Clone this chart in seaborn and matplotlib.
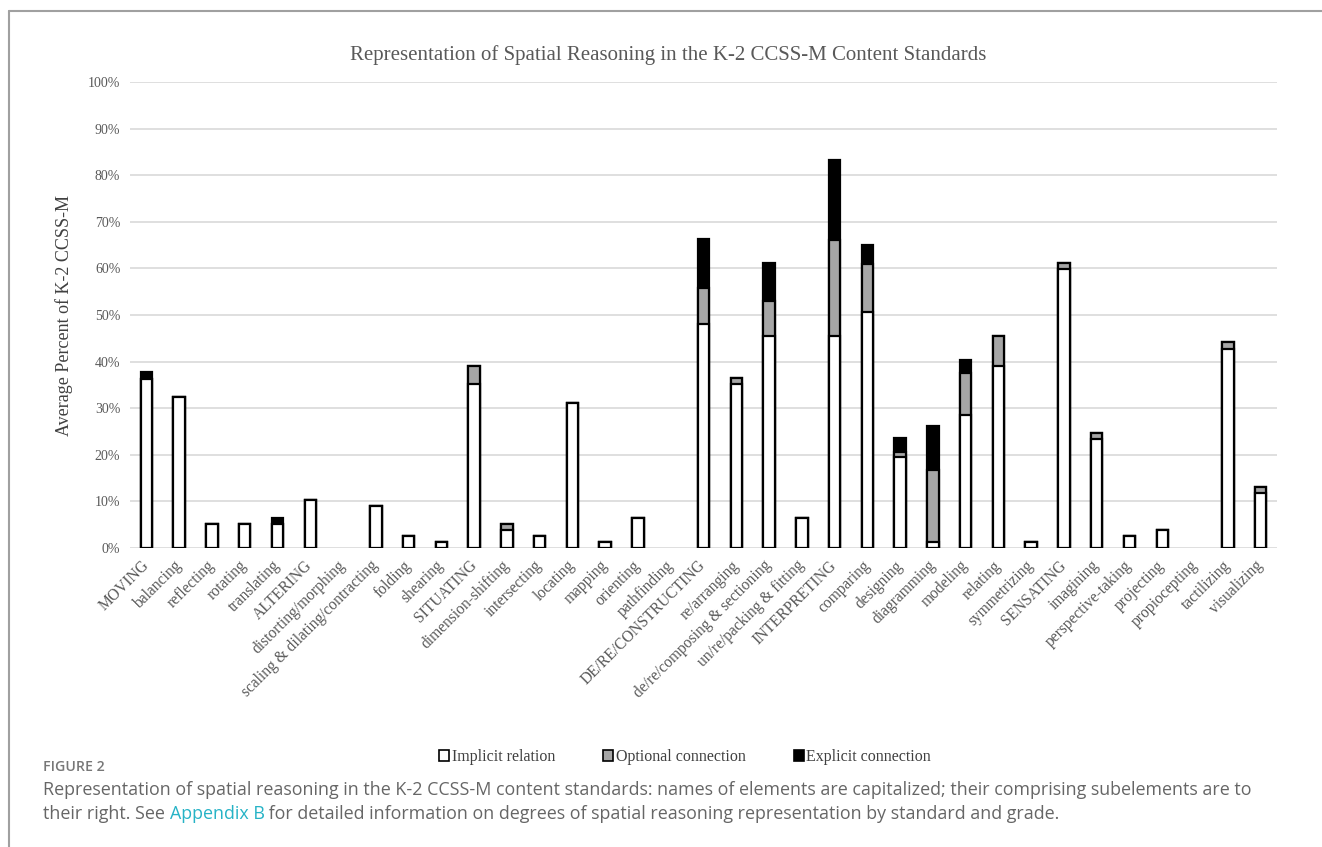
import matplotlib
matplotlib.use("Agg")
import matplotlib.pyplot as plt
import seaborn as sns
import pandas as pd
import numpy as np
from matplotlib.patches import Patch
from matplotlib.lines import Line2D

categories = [
    "MOVING", "balancing", "reflecting", "rotating", "translating",
    "ALTERING", "distorting/morphing", "scaling & dilating/contracting", "folding", "shearing",
    "SITUATING", "dimension-shifting", "intersecting", "locating", "mapping",
    "orienting", "pathfinding", "DE/RE/CONSTRUCTING", "re/arranging",
    "de/re/composing & sectioning", "un/re/packing & fitting", "INTERPRETING",
    "comparing", "designing", "diagramming", "modeling", "relating", "symmetrizing",
    "SENSATING", "imagining", "perspective-taking", "projecting", "propiocepting",
    "tactilizing", "visualizing",
]
implicit = [36.3, 32.5, 5.2, 5.2, 5.1, 10.4, 0.0, 9.1, 2.6, 1.3,
            35.1, 3.9, 2.6, 31.2, 1.3, 6.5, 0.0, 48.1, 35.1,
            45.5, 6.5, 45.5,
            50.6, 19.5, 1.3, 28.6, 39.0, 1.3,
            59.8, 23.4, 2.6, 3.9, 0.0, 42.8, 11.7]
optional = [0.0, 0.0, 0.0, 0.0, 0.0, 0.0, 0.0, 0.0, 0.0, 0.0,
            4.0, 1.3, 0.0, 0.0, 0.0, 0.0, 0.0, 7.6, 1.3,
            7.6, 0.0, 20.6,
            10.3, 1.2, 15.4, 9.0, 6.5, 0.0,
            1.3, 1.3, 0.0, 0.0, 0.0, 1.4, 1.4]
explicit = [1.5, 0.0, 0.0, 0.0, 1.4, 0.0, 0.0, 0.0, 0.0, 0.0,
            0.0, 0.0, 0.0, 0.0, 0.0, 0.0, 0.0, 10.7, 0.0,
            8.0, 0.0, 17.2,
            4.2, 2.8, 9.4, 2.7, 0.0, 0.0,
            0.0, 0.0, 0.0, 0.0, 0.0, 0.0, 0.0]
series_names = ["Implicit relation", "Optional connection", "Explicit connection"]
series_colors = ["#ffffff", "#a6a6a6", "#000000"]
yticks = list(range(0, 101, 10))

title = "Representation of Spatial Reasoning in the K-2 CCSS-M Content Standards"
ylabel = "Average Percent of K-2 CCSS-M"
fig_label = "FIGURE 2"
caption1 = ("Representation of spatial reasoning in the K-2 CCSS-M content standards: names of "
            "elements are capitalized; their comprising subelements are to")
caption2a = "their right. See "
caption2b = "Appendix B"
caption2c = (" for detailed information on degrees of spatial reasoning representation by "
             "standard and grade.")

sns.set_theme(style="white")
plt.rcParams['font.family'] = ['Liberation Serif', 'DejaVu Serif']

W, H = 1322, 847
fig = plt.figure(figsize=(W / 100, H / 100), dpi=100)
ax = fig.add_axes([130 / W, 1 - 548 / H, (1277 - 130) / W, (548 - 82) / H])

df = pd.DataFrame({
    "category": categories,
    "implicit": implicit,
    "optional": optional,
    "explicit": explicit,
})
df["lvl1"] = df["implicit"]
df["lvl2"] = df["implicit"] + df["optional"]
df["lvl3"] = df["lvl2"] + df["explicit"]

for col, colr in [("lvl3", series_colors[2]), ("lvl2", series_colors[1]), ("lvl1", series_colors[0])]:
    sns.barplot(data=df, x="category", y=col, order=categories, color=colr,
                saturation=1, edgecolor="black", linewidth=1.6, width=0.35,
                errorbar=None, ax=ax, zorder=3)

for p in ax.patches:
    if p.get_height() <= 0:
        p.set_visible(False)

ax.set_ylim(0, 100)
ax.set_xlim(-0.5, len(categories) - 0.5)
ax.set_yticks(yticks)
ax.set_yticklabels([f"{t}%" for t in yticks], fontsize=10, color="#595959")
ax.set_xticks(range(len(categories)))
ax.set_xticklabels(categories, rotation=45, ha="right", va="center",
                   rotation_mode="anchor", fontsize=11.2, color="#595959")
ax.tick_params(axis="x", length=0, pad=11)
ax.tick_params(axis="y", length=0, pad=7)
ax.grid(axis="y", color="#d9d9d9", linewidth=1.2, zorder=0)
ax.grid(axis="x", visible=False)
for s in ax.spines.values():
    s.set_visible(False)
ax.set_xlabel("")
ax.set_ylabel(ylabel, fontsize=13, color="#404040")
ax.yaxis.set_label_coords((73 - 130) / 1147, 0.5)

fig.text(668 / W, 1 - 55 / H, title, ha="center", va="center", fontsize=15, color="#595959")

handles = [Patch(facecolor=c, edgecolor="black", linewidth=1.2) for c in series_colors]
fig.legend(handles, series_names, loc="center", bbox_to_anchor=(685 / W, 1 - 757 / H),
           ncol=3, frameon=False, handlelength=0.65, handleheight=0.65,
           handletextpad=0.15, columnspacing=3.0, fontsize=11.5, labelcolor="#404040")

# outer frame
fig.add_artist(Line2D([9 / W, 1], [1 - 11 / H, 1 - 11 / H], transform=fig.transFigure,
                      color="#a0a0a0", linewidth=1.5))
fig.add_artist(Line2D([9 / W, 9 / W], [0, 1 - 11 / H], transform=fig.transFigure,
                      color="#a0a0a0", linewidth=1.5))

cap_font = ['Open Sans', 'DejaVu Sans']
cap_size = 12.9
fig.text(43 / W, 1 - 767 / H, fig_label, family=cap_font, fontweight="semibold",
         fontsize=10.2, color="#777777", va="center")
fig.text(43 / W, 1 - 790 / H, caption1, family=cap_font, fontsize=cap_size,
         color="#666666", va="center")
t1 = fig.text(43 / W, 1 - 814 / H, caption2a, family=cap_font, fontsize=cap_size,
              color="#666666", va="center")
fig.canvas.draw()
r = fig.canvas.get_renderer()
bb = t1.get_window_extent(r)
t2 = fig.text(bb.x1 / W, 1 - 814 / H, caption2b, family=cap_font, fontsize=cap_size,
              color="#26b3c6", va="center")
bb2 = t2.get_window_extent(r)
fig.text(bb2.x1 / W, 1 - 814 / H, caption2c, family=cap_font, fontsize=cap_size,
         color="#666666", va="center")

fig.savefig("out.png", dpi=100, facecolor="white")
